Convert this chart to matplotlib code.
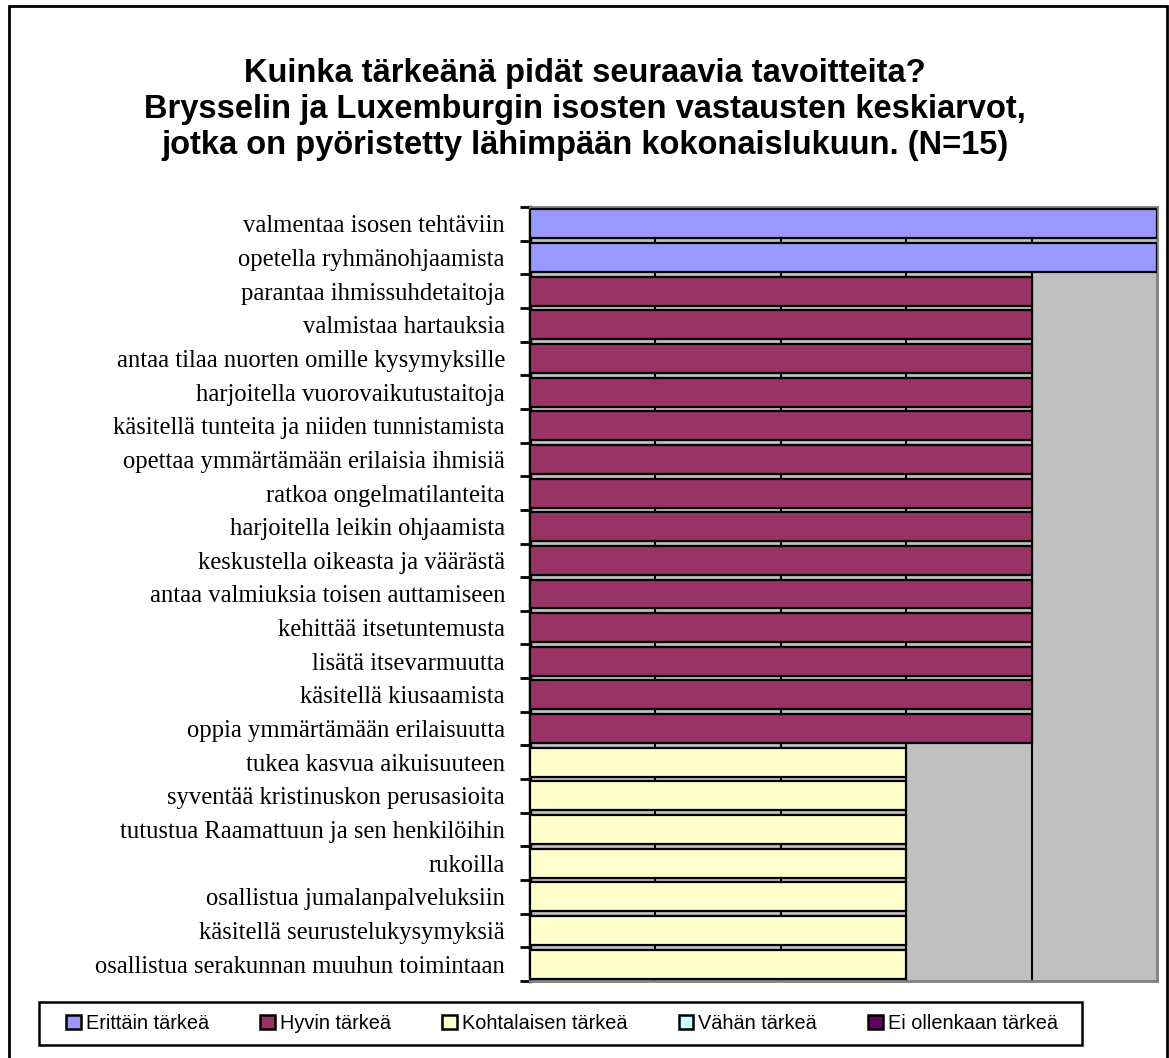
import matplotlib
matplotlib.use("Agg")
import matplotlib.pyplot as plt
from matplotlib.patches import Rectangle, Patch
import numpy as np

categories = [
    "valmentaa isosen tehtäviin",
    "opetella ryhmänohjaamista",
    "parantaa ihmissuhdetaitoja",
    "valmistaa hartauksia",
    "antaa tilaa nuorten omille kysymyksille",
    "harjoitella vuorovaikutustaitoja",
    "käsitellä tunteita ja niiden tunnistamista",
    "opettaa ymmärtämään erilaisia ihmisiä",
    "ratkoa ongelmatilanteita",
    "harjoitella leikin ohjaamista",
    "keskustella oikeasta ja väärästä",
    "antaa valmiuksia toisen auttamiseen",
    "kehittää itsetuntemusta",
    "lisätä itsevarmuutta",
    "käsitellä kiusaamista",
    "oppia ymmärtämään erilaisuutta",
    "tukea kasvua aikuisuuteen",
    "syventää kristinuskon perusasioita",
    "tutustua Raamattuun ja sen henkilöihin",
    "rukoilla",
    "osallistua jumalanpalveluksiin",
    "käsitellä seurustelukysymyksiä",
    "osallistua serakunnan muuhun toimintaan",
]

series_names = ["Erittäin tärkeä", "Hyvin tärkeä", "Kohtalaisen tärkeä",
                "Vähän tärkeä", "Ei ollenkaan tärkeä"]
series_colors = ["#9999FF", "#993366", "#FFFFCC", "#CCFFFF", "#660066"]

erittain = [5, 5] + [0] * 21
hyvin = [0, 0] + [4] * 14 + [0] * 7
kohtalaisen = [0] * 16 + [3] * 7
vahan = [0] * 23
ei_ollenkaan = [0] * 23
series_values = [erittain, hyvin, kohtalaisen, vahan, ei_ollenkaan]

W, H = 1169, 1058
fig = plt.figure(figsize=(W / 100, H / 100), dpi=100)
fig.patch.set_facecolor("white")

# outer border (bottom edge lies below the image)
fig.add_artist(Rectangle((9 / W, 1 - 1065 / H), (1167 - 9) / W, (1065 - 6) / H,
                         transform=fig.transFigure, fill=False,
                         edgecolor="black", linewidth=2))

left, right, top, bottom = 530, 1157, 207, 981
ax = fig.add_axes([left / W, 1 - bottom / H, (right - left) / W, (bottom - top) / H])
ax.set_facecolor("#C0C0C0")

n = len(categories)
y = np.arange(n)
for name, vals, col in zip(series_names, series_values, series_colors):
    vals = np.array(vals, dtype=float)
    m = vals > 0
    ax.barh(y[m], vals[m], height=0.86, color=col, edgecolor="black",
            linewidth=1.6, zorder=3)

ax.set_xlim(0, 5)
ax.set_ylim(n - 0.5, -0.5)
for xv in [1, 2, 3, 4]:
    ax.axvline(xv, color="black", linewidth=1.5, zorder=1)

ax.set_xticks([])
ax.set_yticks(y)
ax.set_yticklabels(categories, fontfamily="Liberation Serif", fontsize=17.7)
ax.tick_params(axis="y", which="major", length=0, pad=18)
ax.set_yticks(np.arange(n + 1) - 0.5, minor=True)
ax.tick_params(axis="y", which="minor", length=7, width=2, color="black")

for s in ["top", "right", "bottom"]:
    ax.spines[s].set_color("#808080")
    ax.spines[s].set_linewidth(2)
ax.spines["left"].set_color("black")
ax.spines["left"].set_linewidth(2.5)

# title
fig.text(585 / W, 1 - 109.5 / H,
         "Kuinka tärkeänä pidät seuraavia tavoitteita?\n"
         "Brysselin ja Luxemburgin isosten vastausten keskiarvot,\n"
         "jotka on pyöristetty lähimpään kokonaislukuun. (N=15)",
         ha="center", va="center", fontfamily="Liberation Sans",
         fontweight="bold", fontsize=23.5, linespacing=1.2)

# legend frame drawn separately
fig.add_artist(Rectangle((39 / W, 1 - 1045 / H), (1082 - 39) / W, (1045 - 1002) / H,
                         transform=fig.transFigure, facecolor="white",
                         edgecolor="black", linewidth=1.8, zorder=4))

handles = [Patch(facecolor=c, edgecolor="black", linewidth=1.8) for c in series_colors]
leg = fig.legend(handles, series_names, loc="center",
                 bbox_to_anchor=(562 / W, 1 - 1023.5 / H), ncol=5,
                 prop={"family": "Liberation Sans", "size": 14.3},
                 frameon=False,
                 handlelength=0.72, handleheight=0.72, handletextpad=0.25,
                 columnspacing=2.6, borderpad=0.0, borderaxespad=0)
leg.set_zorder(5)

fig.savefig("out.png", dpi=100, facecolor="white")
